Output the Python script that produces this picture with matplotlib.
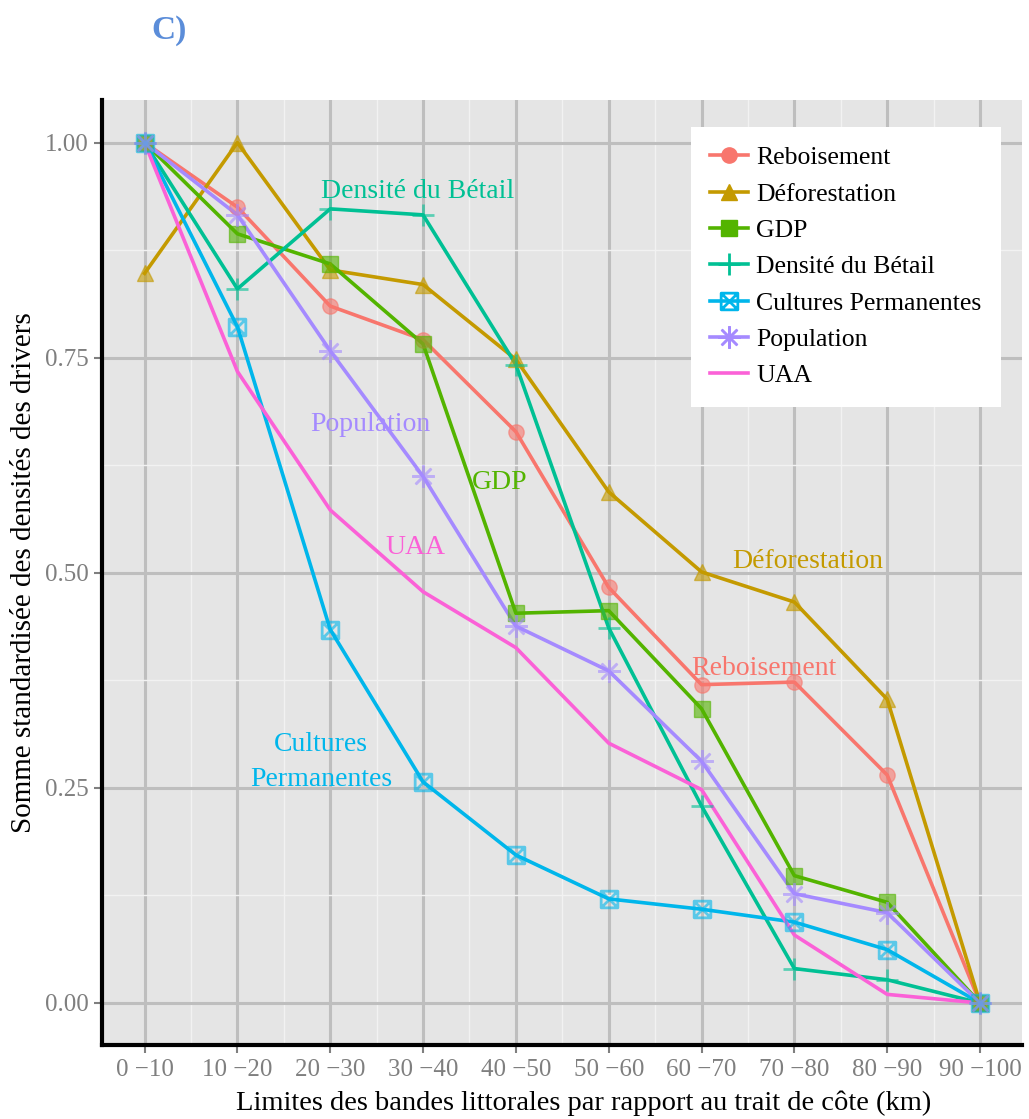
import matplotlib
matplotlib.use("Agg")
import matplotlib.pyplot as plt
from matplotlib.path import Path
import numpy as np

plt.rcParams['font.family'] = ['Liberation Serif', 'DejaVu Serif']

bands = ["0 \u221210", "10 \u221220", "20 \u221230", "30 \u221240", "40 \u221250",
         "50 \u221260", "60 \u221270", "70 \u221280", "80 \u221290", "90 \u2212100"]

reboisement = [1.00, 0.925, 0.810, 0.771, 0.664, 0.483, 0.370, 0.373, 0.265, 0.0]
deforestation = [0.848, 1.00, 0.852, 0.835, 0.748, 0.594, 0.501, 0.466, 0.353, 0.0]
gdp = [1.00, 0.894, 0.859, 0.766, 0.453, 0.456, 0.342, 0.148, 0.117, 0.0]
betail = [1.00, 0.830, 0.923, 0.916, 0.742, 0.436, 0.229, 0.040, 0.027, 0.0]
cultures = [1.00, 0.786, 0.434, 0.257, 0.172, 0.121, 0.109, 0.094, 0.062, 0.0]
population = [1.00, 0.916, 0.758, 0.612, 0.438, 0.386, 0.281, 0.127, 0.105, 0.0]
uaa = [1.00, 0.734, 0.573, 0.478, 0.413, 0.302, 0.248, 0.079, 0.010, 0.0]

names = ["Reboisement", "D\u00e9forestation", "GDP", "Densit\u00e9 du B\u00e9tail",
         "Cultures Permanentes", "Population", "UAA"]
colors = ["#F8766D", "#C49A00", "#53B400", "#00C094", "#00B6EB", "#A58AFF", "#FB61D7"]

# in-plot labels (text, x index, y value)
labels = [("Densit\u00e9 du B\u00e9tail", 2.94, 0.943, "#00C094"),
          ("Population", 2.43, 0.672, "#A58AFF"),
          ("GDP", 3.83, 0.605, "#53B400"),
          ("UAA", 2.92, 0.529, "#FB61D7"),
          ("D\u00e9forestation", 7.14, 0.513, "#C49A00"),
          ("Reboisement", 6.67, 0.389, "#F8766D"),
          ("Cultures", 1.90, 0.300, "#00B6EB"),
          ("Permanentes", 1.90, 0.260, "#00B6EB")]

# square with a cross inside (ggplot shape 7)
sq_cross = Path([(-1, -1), (1, -1), (1, 1), (-1, 1), (-1, -1), (-1, -1), (1, 1), (-1, 1), (1, -1)],
                [Path.MOVETO, Path.LINETO, Path.LINETO, Path.LINETO, Path.CLOSEPOLY,
                 Path.MOVETO, Path.LINETO, Path.MOVETO, Path.LINETO])

styles = [dict(marker='o', ms=11),
          dict(marker='^', ms=12),
          dict(marker='s', ms=11),
          dict(marker='+', ms=16, mew=2),
          dict(marker=sq_cross, ms=12, mfc='none', mew=2),
          dict(marker=(8, 2, 0), ms=16, mew=1.8),
          dict(marker=None)]

fig = plt.figure(figsize=(10.29, 11.19), dpi=100)
ax = fig.add_axes([0.099, 0.066, 0.894, 0.845])
ax.set_facecolor("#E5E5E5")

x = np.arange(len(bands))
series = [reboisement, deforestation, gdp, betail, cultures, population, uaa]
for vals, name, col, st in zip(series, names, colors, styles):
    ax.plot(x, vals, color=col, lw=2.6, label=name, zorder=3)
    if st['marker'] is not None:
        st = dict(st)
        mfc = st.pop('mfc', col)
        ax.plot(x, vals, ls='none', color=col, mfc=mfc, alpha=0.6, zorder=4, **st)

# legend proxies combining line and marker
handles = []
for name, col, st in zip(names, colors, styles):
    st = dict(st)
    mfc = st.pop('mfc', col)
    h, = ax.plot([], [], color=col, lw=2.6, mfc=mfc, label=name, **st)
    handles.append(h)

for txt, lx, ly, col in labels:
    ax.text(lx, ly, txt, color=col, fontsize=20, ha='center', va='center', zorder=5)

ax.set_xlim(-0.46, 9.45)
ax.set_ylim(-0.049, 1.05)
ax.set_xticks(x)
ax.set_xticklabels(bands)
ax.set_yticks([0, 0.25, 0.5, 0.75, 1.0])
ax.set_yticklabels(["0.00", "0.25", "0.50", "0.75", "1.00"])
ax.set_xticks(x[:-1] + 0.5, minor=True)
ax.set_yticks([0.125, 0.375, 0.625, 0.875], minor=True)
ax.grid(which='major', color="#BEBEBE", lw=2.2, zorder=0)
ax.grid(which='minor', color="#F2F2F2", lw=1.0, zorder=0)
ax.set_axisbelow(True)
ax.tick_params(which='major', labelsize=18, labelcolor="#7F7F7F", color="#7F7F7F",
               length=6, width=1.5)
ax.tick_params(axis='x', pad=4)
ax.tick_params(which='minor', length=0)
for s in ['top', 'right']:
    ax.spines[s].set_visible(False)
for s in ['left', 'bottom']:
    ax.spines[s].set_linewidth(3)
    ax.spines[s].set_color('black')

ax.set_xlabel("Limites des bandes littorales par rapport au trait de c\u00f4te (km)", fontsize=20.5)
ax.xaxis.set_label_coords(0.524, -0.048)
ax.set_ylabel("Somme standardis\u00e9e des densit\u00e9s des drivers", fontsize=21, labelpad=6)

leg = ax.legend(handles=handles, loc='upper right', bbox_to_anchor=(0.977, 0.971),
                fontsize=18.5, frameon=True, fancybox=False, framealpha=1, handlelength=1.5,
                borderpad=0.75, labelspacing=0.52, handletextpad=0.3, borderaxespad=0)
leg.get_frame().set_edgecolor('white')
leg.get_frame().set_linewidth(0)
leg.set_zorder(6)

fig.text(0.164, 0.973, "C)", color="#5B8DD9", fontsize=24, fontweight='bold',
         ha='center', va='center')

fig.savefig("out.png", dpi=100)
